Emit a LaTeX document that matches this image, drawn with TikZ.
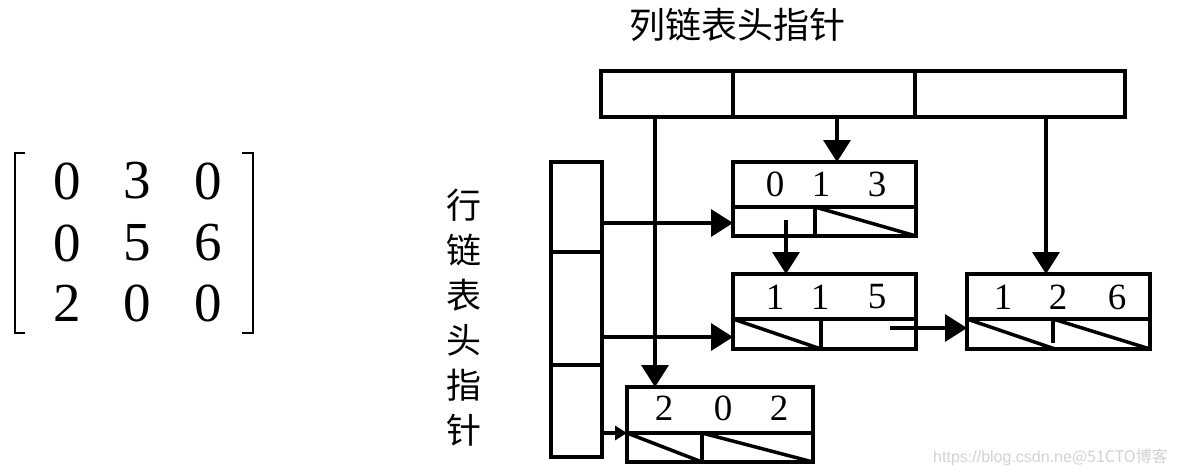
\documentclass[tikz,border=0pt]{standalone}
\usepackage{fontspec}
\setmainfont{Liberation Serif}
\newfontfamily\cjk{Noto Sans CJK SC}
\newfontfamily\wmfont{Liberation Sans}
\usetikzlibrary{arrows.meta,calc}
\begin{document}
\begin{tikzpicture}[x=1pt,y=-1pt,
  rec/.style={draw,line width=3.5pt,inner sep=0pt,outer sep=0pt,minimum width=183pt,minimum height=75pt},
  lnk/.style={line width=3.5pt},
  arr/.style={lnk,-{Triangle[length=22pt,width=27pt]}},
  sarr/.style={lnk,-{Triangle[length=12pt,width=14pt]}},
  dig/.style={font=\fontsize{37}{37}\selectfont,inner sep=0pt},
  matd/.style={font=\fontsize{55}{55}\selectfont,inner sep=0pt},
  cjkt/.style={font=\cjk\fontsize{36}{36}\selectfont,inner sep=0pt},
  brk/.style={line width=1.5pt}]
\useasboundingbox (0,0) rectangle (1184,475);

% matrix
\draw[brk] (25,153) -- (15,153) -- (15,333) -- (25,333);
\draw[brk] (242,153) -- (253,153) -- (253,333) -- (242,333);
\node[matd] (m11) at (67,181) {0};
\node[matd] (m12) at (137,181) {3};
\node[matd] (m13) at (208,181) {0};
\node[matd] (m21) at (67,243) {0};
\node[matd] (m22) at (137,243) {5};
\node[matd] (m23) at (208,243) {6};
\node[matd] (m31) at (67,303) {2};
\node[matd] (m32) at (137,303) {0};
\node[matd] (m33) at (208,303) {0};

% titles
\node[cjkt] (coltitle) at (737,25) {列链表头指针};
\node[font=\cjk\fontsize{35}{45}\selectfont,inner sep=0pt,align=center] (rowtitle) at (464,318) {行\\链\\表\\头\\指\\针};

% column head pointer array
\node[rec,minimum width=524pt,minimum height=46pt] (col) at (863,94) {};
\draw[lnk] (733,71) -- (733,117);
\draw[lnk] (915,71) -- (915,117);

% row head pointer array
\node[rec,minimum width=51pt,minimum height=295pt] (rowh) at (576.5,309.5) {};
\draw[lnk] (551,252) -- (602,252);
\draw[lnk] (551,365) -- (602,365);

% records
\node[rec,minimum height=74pt] (n013) at (824.5,199) {};
\draw[lnk] (733,207) -- (916,207);
\draw[lnk] (815,207) -- (815,236);
\draw[lnk] (815,207) -- (916,236);

\node[rec] (n115) at (824.5,311.5) {};
\draw[lnk] (733,319) -- (916,319);
\draw[lnk] (821,319) -- (821,349);
\draw[lnk] (733,319) -- (821,349);

\node[rec] (n126) at (1058.5,311.5) {};
\draw[lnk] (967,319) -- (1150,319);
\draw[lnk] (1053,319) -- (1053,343);
\draw[lnk] (967,319) -- (1055,349);
\draw[lnk] (1053,319) -- (1150,349);

\node[rec,minimum width=186pt] (n202) at (720,424.5) {};
\draw[lnk] (627,433) -- (813,433);
\draw[lnk] (702,433) -- (702,462);
\draw[lnk] (627,433) -- (702,462);
\draw[lnk] (702,433) -- (813,462);

% digits
\node[dig] (a1) at (775,184) {0};
\node[dig] (a2) at (821,184) {1};
\node[dig] (a3) at (877,184) {3};
\node[dig] (b1) at (775,297) {1};
\node[dig] (b2) at (820,297) {1};
\node[dig] (b3) at (877,297) {5};
\node[dig] (c1) at (1003,297) {1};
\node[dig] (c2) at (1058,297) {2};
\node[dig] (c3) at (1117,297) {6};
\node[dig] (e1) at (664,408) {2};
\node[dig] (e2) at (723,408) {0};
\node[dig] (e3) at (779,408) {2};

% connectors
\coordinate (cA) at (655,117);
\coordinate (cB) at (837,117);
\coordinate (cC) at (1046,117);
\draw[arr] (cA) -- (cA |- n202.north);
\draw[arr] (cB) -- (cB |- n013.north);
\draw[arr] (cC) -- (cC |- n126.north);

\coordinate (rA) at (602,223);
\coordinate (rB) at (602,337);
\coordinate (rC) at (602,433);
\draw[arr] (rA) -- (rA -| n013.west);
\draw[arr] (rB) -- (rB -| n115.west);
\draw[sarr] (rC) -- (rC -| n202.west);

\coordinate (p1) at (786,220);
\draw[arr] (p1) -- (p1 |- n115.north);
\coordinate (p2) at (890,328);
\draw[arr] (p2) -- (p2 -| n126.west);

% watermark
\node[font=\wmfont\fontsize{16}{16}\selectfont,text=gray!35,inner sep=0pt,anchor=east] (wm) at (1168,457) {https://blog.csdn.ne{\cjk @51CTO博客}};
\end{tikzpicture}
\end{document}
